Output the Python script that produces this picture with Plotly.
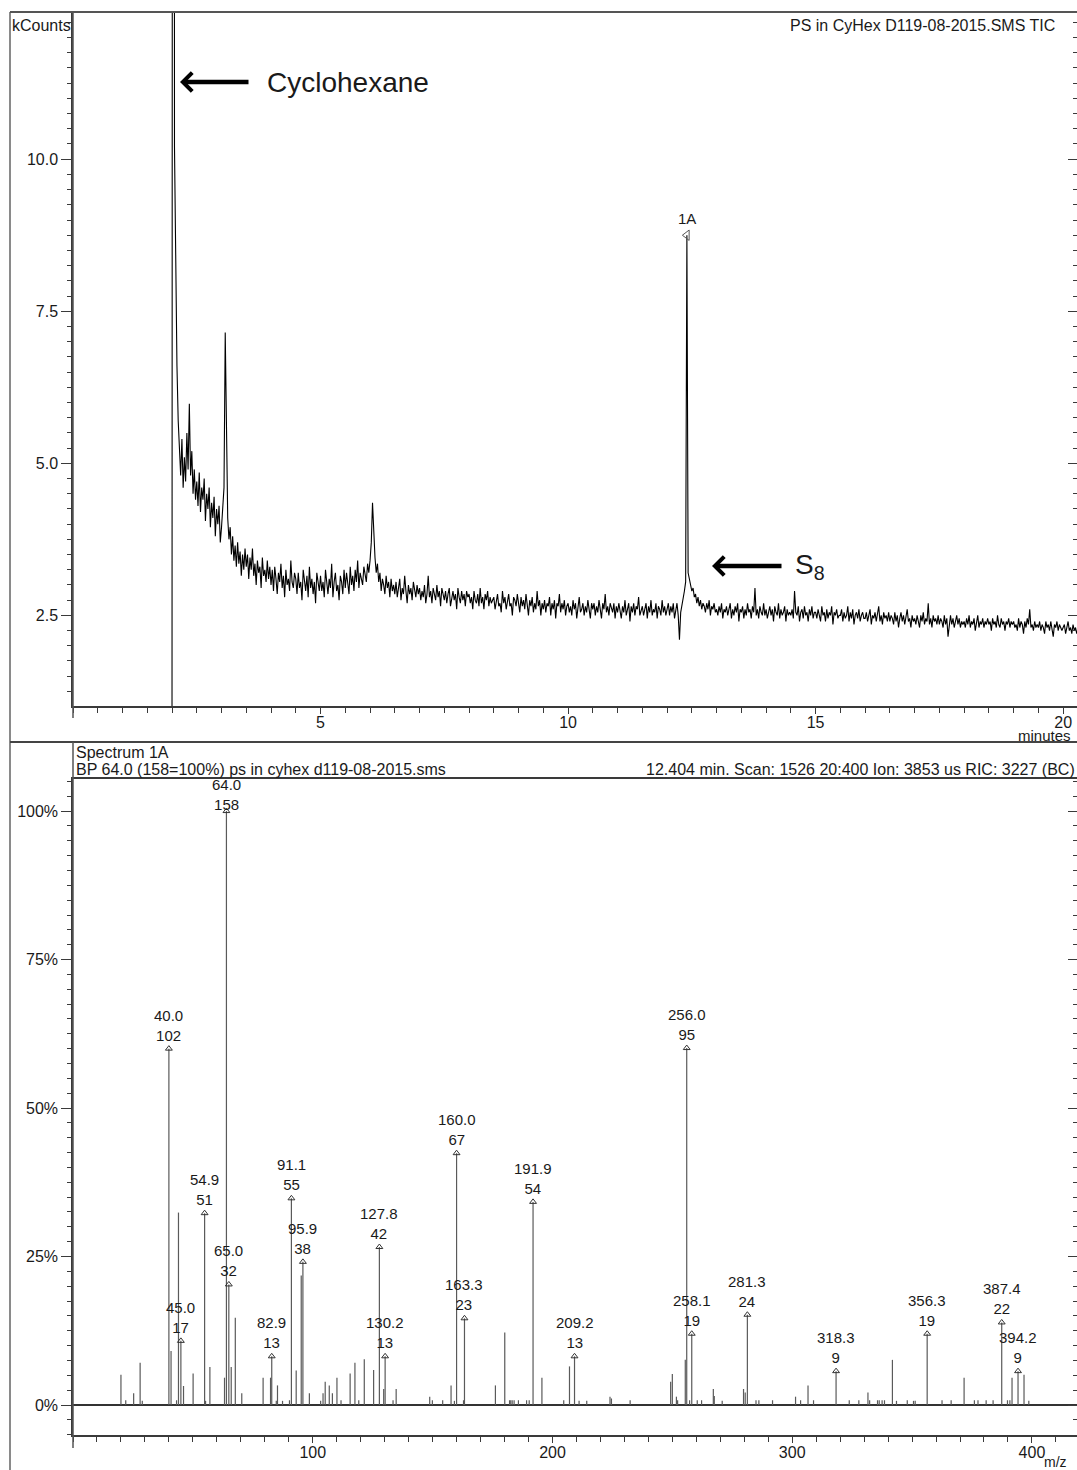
import plotly.graph_objects as go

# ---------------- TIC chromatogram (kCounts vs minutes) ----------------
tic_start_min = 2.000
tic_step_min = 0.025
tic_kcounts = [
    # 2.0 - 2.475
    0.4, 60.0, 10.2, 8.1, 6.6, 5.7, 5.2, 4.8, 5.4, 4.6, 5.1, 4.7, 5.5, 4.9, 5.98, 4.8, 5.2, 4.5, 4.9, 4.4,
    # 2.5
    4.7, 4.3, 4.85, 4.2, 4.6, 4.4, 4.75, 4.05, 4.5, 4.25, 4.6, 3.95, 4.35, 4.1, 4.45, 3.8, 4.25, 4.0, 4.3, 3.7,
    # 3.0
    3.95, 4.2, 4.6, 7.15, 5.2, 4.1, 3.75, 3.95, 3.5, 3.8, 3.4, 3.65, 3.3, 3.7, 3.35, 3.55, 3.15, 3.5, 3.25, 3.6,
    # 3.5
    3.3, 3.5, 3.1, 3.45, 3.25, 3.6, 3.15, 3.35, 3.0, 3.4, 3.2, 3.3, 2.95, 3.45, 3.15, 3.25, 3.05, 3.4, 3.1, 3.3,
    # 4.0
    3.0, 3.25, 2.9, 3.3, 3.1, 2.85, 3.2, 3.05, 3.35, 2.95, 3.15, 2.8, 3.25, 3.0, 3.1, 2.9, 3.4, 3.05, 2.95, 3.2,
    # 4.5
    3.1, 2.85, 3.2, 2.95, 3.05, 2.75, 3.25, 3.0, 2.9, 3.15, 2.8, 3.3, 2.95, 3.1, 2.85, 3.05, 2.7, 3.2, 3.0, 2.9,
    # 5.0
    3.15, 2.9, 3.05, 2.8, 3.25, 3.0, 2.85, 3.1, 2.95, 3.35, 2.8, 3.05, 3.2, 2.9, 3.0, 2.75, 3.15, 3.05, 2.85, 3.25,
    # 5.5
    2.95, 3.2, 3.05, 2.85, 3.3, 3.0, 3.15, 2.9, 3.25, 3.05, 3.4, 2.95, 3.2, 3.1, 3.0, 3.3, 3.15, 3.05, 3.35, 3.2,
    # 6.0
    3.4, 3.7, 4.35, 3.8, 3.45, 3.2, 3.35, 3.05, 3.2, 2.9, 3.1, 3.0, 2.85, 3.15, 2.95, 3.05, 2.8, 3.1, 2.9, 3.0,
    # 6.5
    2.85, 3.05, 2.8, 2.95, 3.1, 2.75, 2.95, 2.85, 3.15, 2.9, 2.7, 3.0, 2.85, 2.95, 2.75, 3.05, 2.9, 2.8, 3.0, 2.85,
    # 7.0
    2.95, 2.75, 2.9, 2.8, 3.0, 2.7, 2.85, 3.15, 2.8, 2.9, 2.7, 2.95, 2.85, 2.75, 3.0, 2.8, 2.9, 2.65, 2.95, 2.85,
    # 7.5
    2.75, 2.9, 2.7, 2.85, 2.95, 2.65, 2.8, 2.9, 2.75, 2.85, 2.6, 2.95, 2.8, 2.7, 2.9, 2.75, 2.85, 2.65, 2.9, 2.8,
    # 8.0
    2.85, 2.7, 2.8, 2.6, 2.9, 2.75, 2.7, 2.85, 2.65, 2.95, 2.7, 2.8, 2.6, 2.85, 2.75, 2.9, 2.65, 2.8, 2.7, 2.75,
    # 8.5
    2.8, 2.6, 2.75, 2.85, 2.65, 2.7, 2.55, 2.9, 2.7, 2.8, 2.6, 2.75, 2.85, 2.65, 2.7, 2.5, 2.8, 2.75, 2.65, 2.85,
    # 9.0
    2.7, 2.55, 2.8, 2.65, 2.75, 2.6, 2.85, 2.7, 2.5, 2.75, 2.65, 2.8, 2.55, 2.7, 2.6, 2.9, 2.65, 2.75, 2.5, 2.7,
    # 9.5
    2.6, 2.75, 2.55, 2.7, 2.65, 2.8, 2.5, 2.7, 2.6, 2.75, 2.45, 2.7, 2.65, 2.85, 2.55, 2.7, 2.6, 2.75, 2.5, 2.65,
    # 10.0
    2.7, 2.55, 2.65, 2.5, 2.75, 2.6, 2.7, 2.45, 2.65, 2.8, 2.55, 2.6, 2.7, 2.5, 2.65, 2.55, 2.75, 2.6, 2.45, 2.7,
    # 10.5
    2.6, 2.7, 2.5, 2.65, 2.55, 2.75, 2.6, 2.45, 2.7, 2.6, 2.85, 2.55, 2.65, 2.5, 2.7, 2.6, 2.55, 2.7, 2.45, 2.65,
    # 11.0
    2.55, 2.7, 2.6, 2.45, 2.65, 2.55, 2.75, 2.5, 2.6, 2.7, 2.4, 2.65, 2.55, 2.7, 2.5, 2.65, 2.6, 2.8, 2.5, 2.6,
    # 11.5
    2.65, 2.5, 2.6, 2.7, 2.45, 2.65, 2.55, 2.75, 2.5, 2.6, 2.55, 2.7, 2.45, 2.65, 2.6, 2.5, 2.75, 2.55, 2.65, 2.5,
    # 12.0
    2.6, 2.7, 2.5, 2.65, 2.55, 2.7, 2.45, 2.6, 2.7, 2.5, 2.1, 2.55, 2.65, 2.75, 2.9, 3.05, 8.75, 3.2, 3.1, 3.0,
    # 12.5
    2.9, 2.95, 2.8, 2.85, 2.7, 2.8, 2.65, 2.75, 2.6, 2.7, 2.65, 2.55, 2.7, 2.6, 2.75, 2.5, 2.65, 2.6, 2.7, 2.55,
    # 13.0
    2.6, 2.5, 2.65, 2.55, 2.7, 2.45, 2.6, 2.55, 2.65, 2.5, 2.6, 2.7, 2.45, 2.6, 2.5, 2.65, 2.55, 2.7, 2.4, 2.6,
    # 13.5
    2.55, 2.65, 2.45, 2.6, 2.5, 2.7, 2.55, 2.6, 2.45, 2.65, 2.55, 2.95, 2.5, 2.6, 2.45, 2.65, 2.55, 2.5, 2.7, 2.5,
    # 14.0
    2.6, 2.45, 2.55, 2.65, 2.5, 2.6, 2.4, 2.65, 2.55, 2.5, 2.7, 2.45, 2.6, 2.5, 2.55, 2.65, 2.4, 2.6, 2.5, 2.55,
    # 14.5
    2.5, 2.6, 2.45, 2.9, 2.55, 2.5, 2.65, 2.4, 2.55, 2.6, 2.45, 2.65, 2.5, 2.55, 2.4, 2.6, 2.5, 2.65, 2.45, 2.55,
    # 15.0
    2.55, 2.45, 2.6, 2.5, 2.4, 2.65, 2.5, 2.55, 2.4, 2.6, 2.45, 2.55, 2.5, 2.65, 2.35, 2.55, 2.5, 2.6, 2.45, 2.5,
    # 15.5
    2.5, 2.6, 2.4, 2.55, 2.45, 2.5, 2.65, 2.4, 2.55, 2.45, 2.6, 2.35, 2.5, 2.55, 2.45, 2.6, 2.4, 2.5, 2.55, 2.45,
    # 16.0
    2.45, 2.55, 2.4, 2.5, 2.6, 2.35, 2.5, 2.45, 2.55, 2.4, 2.5, 2.65, 2.4, 2.5, 2.35, 2.55, 2.45, 2.5, 2.4, 2.55,
    # 16.5
    2.4, 2.5, 2.45, 2.35, 2.55, 2.4, 2.5, 2.3, 2.45, 2.55, 2.4, 2.5, 2.35, 2.45, 2.6, 2.4, 2.45, 2.3, 2.5, 2.4,
    # 17.0
    2.45, 2.35, 2.5, 2.4, 2.3, 2.5, 2.4, 2.55, 2.35, 2.45, 2.4, 2.7, 2.35, 2.45, 2.3, 2.5, 2.4, 2.45, 2.35, 2.5,
    # 17.5
    2.35, 2.45, 2.4, 2.3, 2.5, 2.35, 2.45, 2.15, 2.4, 2.5, 2.35, 2.45, 2.3, 2.4, 2.5, 2.35, 2.45, 2.3, 2.4, 2.35,
    # 18.0
    2.4, 2.3, 2.45, 2.35, 2.5, 2.3, 2.4, 2.35, 2.45, 2.25, 2.4, 2.5, 2.3, 2.4, 2.35, 2.45, 2.3, 2.4, 2.35, 2.45,
    # 18.5
    2.35, 2.4, 2.25, 2.45, 2.35, 2.4, 2.3, 2.5, 2.35, 2.3, 2.45, 2.35, 2.4, 2.25, 2.4, 2.35, 2.45, 2.3, 2.4, 2.35,
    # 19.0
    2.4, 2.3, 2.35, 2.25, 2.45, 2.3, 2.4, 2.35, 2.2, 2.4, 2.3, 2.45, 2.35, 2.6, 2.3, 2.35, 2.25, 2.4, 2.3, 2.35,
    # 19.5
    2.3, 2.4, 2.25, 2.35, 2.3, 2.2, 2.4, 2.3, 2.35, 2.25, 2.4, 2.3, 2.15, 2.35, 2.3, 2.4, 2.25, 2.35, 2.3, 2.25,
    # 20.0 - 20.3
    2.3, 2.35, 2.2, 2.3, 2.4, 2.25, 2.3, 2.2, 2.35, 2.25, 2.3, 2.2, 2.3,
]
tic_minutes = [round(tic_start_min + i * tic_step_min, 4) for i in range(len(tic_kcounts))]

spectrum_marker_min = 12.40
spectrum_marker_kcounts = 8.75
spectrum_marker_name = "1A"

top_x_ticks = [5, 10, 15, 20]
top_y_ticks = [2.5, 5.0, 7.5, 10.0]
top_y_labels = ["2.5", "5.0", "7.5", "10.0"]

# ---------------- Mass spectrum 1A (m/z vs relative intensity %) ----------------
mz_values = [
    20.0, 22.0, 25.3, 28.0, 28.9, 40.0, 40.9, 43.2, 44.0, 45.0, 46.1, 50.1,
    54.9, 55.3, 57.1, 63.2, 64.0, 65.0, 66.0, 67.7, 70.4, 79.3, 82.4, 82.9,
    84.8, 85.3, 87.4, 90.3, 91.1, 93.1, 95.2, 95.9, 98.6, 103.3, 104.3, 105.2,
    106.9, 108.2, 110.1, 111.8, 115.6, 117.6, 119.2, 121.5, 125.4, 127.8, 129.6,
    130.2, 133.5, 134.8, 148.8, 149.9, 154.2, 157.7, 159.1, 160.0, 162.9, 163.3,
    176.2, 180.1, 182.1, 182.6, 183.2, 184.0, 185.8, 189.2, 190.3, 191.9, 195.6,
    204.7, 207.1, 209.2, 211.1, 214.3, 224.0, 224.6, 232.4, 249.3, 250.0, 251.7,
    252.2, 255.4, 256.0, 257.2, 258.1, 260.4, 262.2, 267.1, 267.5, 270.8, 279.7,
    280.4, 281.3, 284.9, 286.1, 291.8, 301.4, 303.5, 306.6, 308.9, 318.3, 323.8,
    327.8, 331.6, 332.3, 335.6, 336.3, 337.5, 338.5, 341.8, 343.5, 348.0, 350.6,
    351.3, 356.3, 362.5, 366.3, 371.7, 376.0, 377.5, 380.9, 383.8, 387.4, 389.8,
    390.8, 391.7, 394.2, 396.7, 398.7,
]
rel_intensity_pct = [
    5.1, 0.8, 2.0, 7.1, 0.7, 60.0, 9.1, 0.8, 32.4, 10.8, 3.2, 5.3,
    32.3, 0.7, 6.4, 4.6, 100.0, 20.3, 6.4, 14.7, 2.0, 4.6, 4.6, 8.2,
    0.7, 3.3, 0.7, 0.8, 34.8, 5.8, 21.8, 24.1, 2.0, 0.7, 2.0, 3.9,
    3.3, 2.0, 4.6, 0.8, 5.3, 7.1, 0.8, 7.7, 5.9, 26.6, 2.7,
    8.2, 0.8, 2.7, 1.4, 0.8, 0.8, 3.3, 0.7, 42.4, 0.8, 14.6,
    3.3, 12.2, 0.8, 0.8, 0.8, 0.8, 0.8, 0.8, 0.8, 34.2, 4.6,
    0.8, 6.5, 8.2, 0.7, 0.7, 1.4, 1.1, 0.8, 3.9, 5.2, 1.4,
    0.8, 7.6, 60.1, 0.8, 12.0, 0.8, 0.8, 2.7, 1.5, 0.7, 2.7,
    2.1, 15.2, 0.8, 0.8, 0.8, 1.4, 0.8, 3.3, 0.8, 5.7, 0.8,
    0.8, 2.1, 0.8, 0.8, 0.8, 0.8, 0.8, 7.6, 0.7, 0.8, 0.7,
    0.7, 12.0, 0.8, 0.8, 4.6, 0.8, 0.8, 0.8, 0.8, 13.9, 0.8,
    0.8, 4.6, 5.7, 5.1, 0.7,
]

labeled_mz = [40.0, 45.0, 54.9, 64.0, 65.0, 82.9, 91.1, 95.9, 127.8, 130.2, 160.0,
              163.3, 191.9, 209.2, 256.0, 258.1, 281.3, 318.3, 356.3, 387.4, 394.2]
labeled_counts = [102, 17, 51, 158, 32, 13, 55, 38, 42, 13, 67,
                  23, 54, 13, 95, 19, 24, 9, 19, 22, 9]

ms_x_ticks = [100, 200, 300, 400]
ms_y_ticks = [0, 25, 50, 75, 100]
ms_y_labels = ["0%", "25%", "50%", "75%", "100%"]

# ---------------- geometry helpers (pixel -> paper) ----------------
W, H = 1077, 1470
def px(x):
    return x / W
def py(y):
    return 1 - y / H

FONT = "Liberation Sans, Arial, sans-serif"
TXT = "#1a1a1a"
AX = "#3a3a3a"

fig = go.Figure()

fig.add_trace(go.Scatter(
    x=tic_minutes, y=tic_kcounts, mode="lines",
    line=dict(color="#000000", width=1.1),
    xaxis="x", yaxis="y", showlegend=False, hoverinfo="skip"))
fig.add_trace(go.Scatter(
    x=[spectrum_marker_min], y=[spectrum_marker_kcounts], mode="markers",
    marker=dict(symbol="triangle-left-open", size=9, color="#555555",
                line=dict(width=1)),
    xaxis="x", yaxis="y", showlegend=False, hoverinfo="skip", cliponaxis=False))
fig.add_trace(go.Scatter(x=[None], y=[None], xaxis="x", yaxis="y3",
                         showlegend=False, hoverinfo="skip"))

stick_x, stick_y = [], []
for m, p in zip(mz_values, rel_intensity_pct):
    stick_x += [m, m, None]
    stick_y += [0, p, None]
fig.add_trace(go.Scatter(
    x=stick_x, y=stick_y, mode="lines",
    line=dict(color="#5a5a5a", width=1.2),
    xaxis="x2", yaxis="y2", showlegend=False, hoverinfo="skip"))

lookup = dict(zip(mz_values, rel_intensity_pct))
labeled_pct = [lookup[m] for m in labeled_mz]
fig.add_trace(go.Scatter(
    x=labeled_mz, y=labeled_pct, mode="markers",
    marker=dict(symbol="triangle-up-open", size=6, color="#333333",
                line=dict(width=1)),
    xaxis="x2", yaxis="y2", showlegend=False, hoverinfo="skip", cliponaxis=False))
fig.add_trace(go.Scatter(x=[None], y=[None], xaxis="x2", yaxis="y4",
                         showlegend=False, hoverinfo="skip"))

annotations = []
for m, c, p in zip(labeled_mz, labeled_counts, labeled_pct):
    annotations.append(dict(
        x=m, y=p, xref="x2", yref="y2", text=f"{m:.1f}<br>{c}",
        showarrow=False, xanchor="center", yanchor="bottom",
        yshift=3 if p < 95 else -4,
        font=dict(size=15, color=TXT, family=FONT)))

annotations.append(dict(
    x=spectrum_marker_min, y=spectrum_marker_kcounts, xref="x", yref="y",
    text=spectrum_marker_name, showarrow=False, xanchor="center", yanchor="bottom",
    yshift=6, font=dict(size=15, color=TXT, family=FONT)))

def ptext(x, y, text, size=16, xanchor="left", yanchor="middle"):
    annotations.append(dict(x=px(x), y=py(y), xref="paper", yref="paper",
                            text=text, showarrow=False, xanchor=xanchor,
                            yanchor=yanchor, font=dict(size=size, color=TXT, family=FONT)))

ptext(10, 26, "kCounts", 16)
ptext(1057, 26, "PS in CyHex D119-08-2015.SMS TIC", 16, xanchor="right")
ptext(1044, 735, "minutes", 15, xanchor="center")
ptext(74, 752, "Spectrum 1A", 16)
ptext(74, 769, "BP 64.0 (158=100%) ps in cyhex d119-08-2015.sms", 16)
ptext(1077, 769, "12.404 min. Scan: 1526 20:400 Ion: 3853 us RIC: 3227 (BC)", 16, xanchor="right")
ptext(1055, 1462, "m/z", 14, xanchor="center")
ptext(265, 82, "Cyclohexane", 28)
ptext(793, 566, "S<sub>8</sub>", 28)

for tipx, tipy, length in [(180, 82, 70), (712, 566, 71)]:
    annotations.append(dict(
        x=px(tipx), y=py(tipy), xref="paper", yref="paper", text="",
        showarrow=True, ax=length, ay=0, arrowhead=4, arrowsize=0.8,
        arrowwidth=4.5, arrowcolor="#000000", standoff=0, startstandoff=0))

shapes = []
def pline(x0, y0, x1, y1, color, width):
    shapes.append(dict(type="line", xref="paper", yref="paper",
                       x0=px(x0), y0=py(y0), x1=px(x1), y1=py(y1),
                       line=dict(color=color, width=width)))

pline(10, 12, 10, 1470, "#8a8a8a", 2)      # outer left frame
pline(10, 12, 1077, 12, "#555555", 2)      # outer top frame
pline(10, 742, 1077, 742, "#444444", 2)    # panel separator
pline(73, 12, 73, 718, "#555555", 1.5)     # top panel left line
pline(73, 742, 73, 1448, "#555555", 1.5)   # bottom panel left line

top_dom = [py(706), py(12)]
bot_dom = [py(1435), py(779)]
xdom = [px(73), 1.0]

tickfont = dict(size=16, color=TXT, family=FONT)

fig.update_layout(
    width=W, height=H, margin=dict(l=0, r=0, t=0, b=0),
    paper_bgcolor="white", plot_bgcolor="white",
    font=dict(family=FONT, color=TXT),
    showlegend=False,
    xaxis=dict(domain=xdom, anchor="y", range=[0, 20.28],
               tickmode="array", tickvals=top_x_ticks, ticks="outside", ticklen=6,
               tickwidth=1.2, tickcolor=AX, showline=True, linecolor=AX, linewidth=1.5,
               ticklabelstandoff=-5,
               showgrid=False, zeroline=False, tickfont=tickfont,
               minor=dict(dtick=0.5, tick0=0, ticks="outside", ticklen=5,
                          tickwidth=1.2, tickcolor=AX)),
    yaxis=dict(domain=top_dom, anchor="x", range=[1.01, 12.42],
               tickmode="array", tickvals=top_y_ticks, ticktext=top_y_labels,
               ticks="outside", ticklen=10, tickwidth=1.4, tickcolor=AX,
               showline=True, linecolor=AX, linewidth=1.5, showgrid=False,
               zeroline=False, tickfont=tickfont,
               minor=dict(dtick=0.25, tick0=0, ticks="outside", ticklen=4,
                          tickwidth=1.4, tickcolor=AX)),
    yaxis3=dict(overlaying="y", side="right", anchor="x", range=[1.01, 12.42],
                tickmode="array", tickvals=top_y_ticks, ticks="inside", ticklen=9,
                tickwidth=1.4, tickcolor=AX, showticklabels=False, showline=False,
                showgrid=False, zeroline=False,
                minor=dict(dtick=0.25, tick0=0, ticks="inside", ticklen=4,
                           tickwidth=1.4, tickcolor=AX)),
    xaxis2=dict(domain=xdom, anchor="y2", range=[0, 418.8],
                tickmode="array", tickvals=ms_x_ticks, ticks="outside", ticklen=6,
                tickwidth=1.2, tickcolor=AX, showline=True, linecolor=AX, linewidth=1.5,
                ticklabelstandoff=-4,
                mirror=True, showgrid=False, zeroline=False, tickfont=tickfont,
                minor=dict(dtick=10, tick0=0, ticks="outside", ticklen=5,
                           tickwidth=1.2, tickcolor=AX)),
    yaxis2=dict(domain=bot_dom, anchor="x2", range=[-5.05, 105.4],
                tickmode="array", tickvals=ms_y_ticks, ticktext=ms_y_labels,
                ticks="outside", ticklen=10, tickwidth=1.4, tickcolor=AX,
                showline=True, linecolor=AX, linewidth=1.5, showgrid=False,
                zeroline=True, zerolinecolor="#333333", zerolinewidth=2,
                tickfont=tickfont,
                minor=dict(dtick=2.5, tick0=0, ticks="outside", ticklen=4,
                           tickwidth=1.4, tickcolor=AX)),
    yaxis4=dict(overlaying="y2", side="right", anchor="x2", range=[-5.05, 105.4],
                tickmode="array", tickvals=ms_y_ticks, ticks="inside", ticklen=9,
                tickwidth=1.4, tickcolor=AX, showticklabels=False, showline=False,
                showgrid=False, zeroline=False,
                minor=dict(dtick=2.5, tick0=0, ticks="inside", ticklen=4,
                           tickwidth=1.4, tickcolor=AX)),
    annotations=annotations,
    shapes=shapes,
)

fig.write_html("out.html")
